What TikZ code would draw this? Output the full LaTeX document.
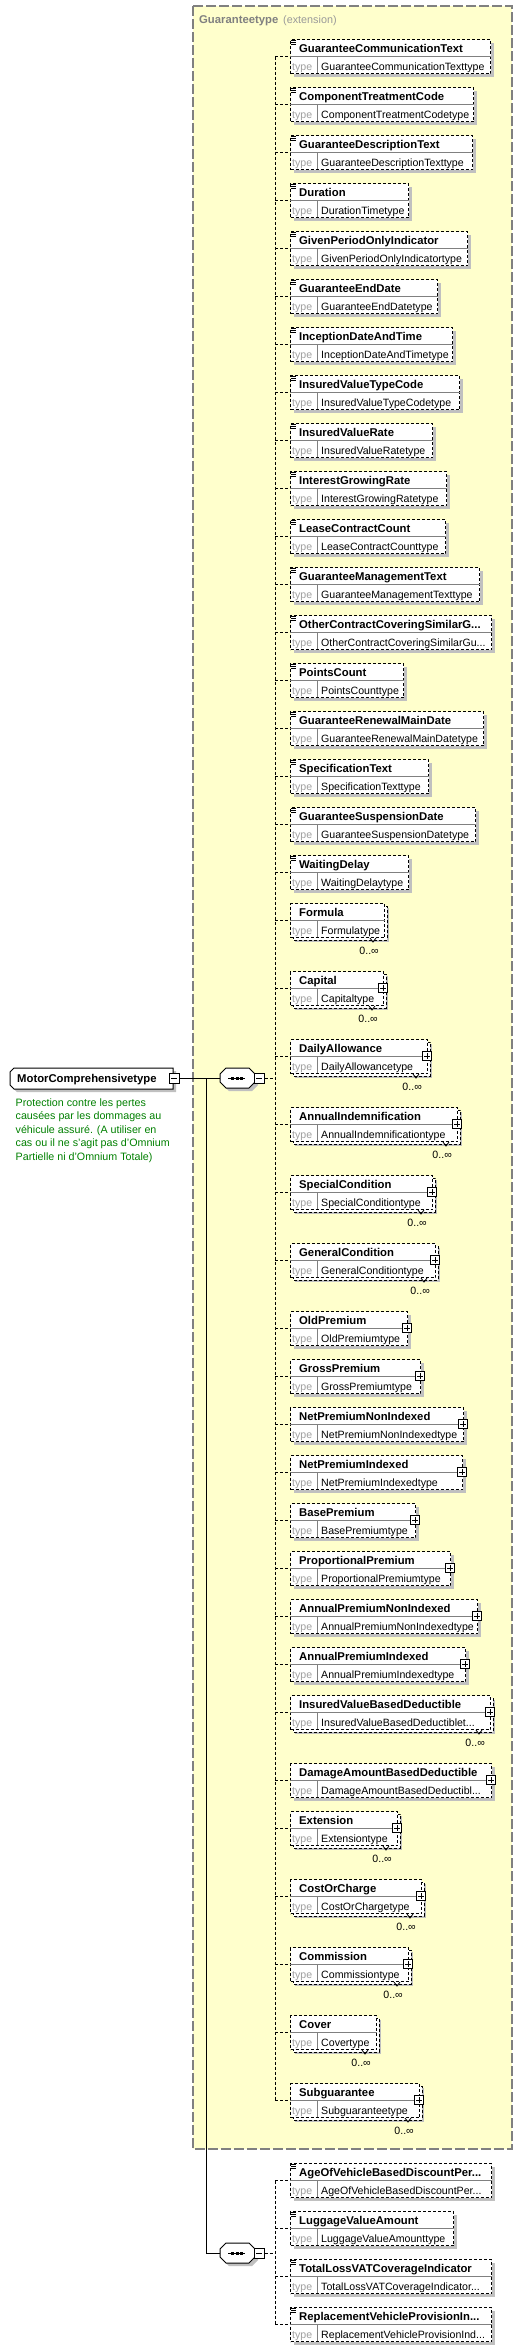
\documentclass[tikz,border=0pt]{standalone}
\usepackage{fontspec}
\setmainfont{Liberation Sans}
\definecolor{yel}{HTML}{FFFFCC}
\definecolor{shdgray}{HTML}{C0C0C0}
\definecolor{divgray}{HTML}{808080}
\definecolor{typegray}{HTML}{A0A0A0}
\definecolor{descgreen}{HTML}{008000}
\definecolor{ttlgray}{HTML}{808080}
\definecolor{ttlgray2}{HTML}{999999}
\tikzset{
  dsh/.style={line width=1pt, dash pattern=on 3pt off 2pt},
  sol/.style={line width=1pt},
  shd/.style={fill=shdgray},
  bk/.style={draw=black, fill=white, line width=1pt, dash pattern=on 3pt off 2pt},
  elbox/.style={draw=black, line width=1pt, dash pattern=on 3pt off 2pt, fill=white, inner sep=0pt, anchor=north west},
  divl/.style={draw=divgray, line width=1pt},
  nmtext/.style={font=\fontsize{11.3}{13}\selectfont\bfseries, inner sep=0pt, anchor=base west},
  tptext/.style={font=\fontsize{10.6}{13}\selectfont, inner sep=0pt, anchor=base west},
  tylabel/.style={font=\fontsize{10.6}{13}\selectfont, text=typegray, inner sep=0pt, anchor=base west},
  multtext/.style={font=\fontsize{10.6}{13}\selectfont, inner sep=0pt},
  desctext/.style={font=\fontsize{10.7}{13}\selectfont, text=descgreen, inner sep=0pt, anchor=base west},
  pbox/.style={draw=black, fill=white, line width=1pt, solid, minimum size=9pt, inner sep=0pt},
  mbox/.style={draw=black, fill=white, line width=1pt, solid, minimum size=10pt, inner sep=0pt},
  icn/.style={line width=0.9pt},
}
% #1 id, #2 top, #3 right, #4 name, #5 type, #6 icon, #7 plus, #8 mult
\newcommand{\xel}[8]{%
  \ifnum#8=1
    \fill[shd] (295,{#2+5}) rectangle ({#3+5},{#2+39});
    \draw[bk] (293,{#2+3}) rectangle ({#3+3},{#2+37});
  \else
    \fill[shd] (294,{#2+4}) rectangle ({#3+4},{#2+38});
  \fi
  \pgfmathsetmacro\elw{#3-290}%
  \node[elbox, minimum width=\elw pt, minimum height=34pt] (#1) at (290,#2) {};
  \draw[divl] (#1.west) -- (#1.east);
  \draw[divl] (317,{#2+17}) -- (317,{#2+34});
  \node[nmtext] (#1n) at (299,{#2+13.5}) {#4};
  \node[tylabel] (#1y) at (292,{#2+31}) {type};
  \node[tptext] (#1t) at (321,{#2+31}) {#5};
  \ifnum#6=1 \draw[icn] (291,{#2+1}) -- ++(5,0) (291,{#2+3}) -- ++(5,0) (291,{#2+5}) -- ++(5,0);\fi
  \ifnum#7=1 \node[pbox] (#1p) at (#3,{#2+17}) {};
    \draw[sol] ({#3-3},{#2+17}) -- ({#3+3},{#2+17}) (#3,{#2+14}) -- (#3,{#2+20});\fi
  \ifnum#8=1 \node[multtext, anchor=base east] (#1m) at ({#3-5},{#2+51}) {0..∞};
    \draw[line width=0.8pt] ({#3-14},{#2+35}) -- ({#3-11},{#2+39}) -- ({#3-8},{#2+35});\fi
}
% #1 id, #2 left x, #3 center y
\newcommand{\seqsym}[3]{%
  \fill[shd] ({#2+3+6},{#3-10+3}) -- ({#2+3+29},{#3-10+3}) -- ({#2+3+35},{#3-4+3}) -- ({#2+3+35},{#3+4+3}) -- ({#2+3+29},{#3+10+3}) -- ({#2+3+6},{#3+10+3}) -- ({#2+3},{#3+4+3}) -- ({#2+3},{#3-4+3}) -- cycle;
  \draw[sol, fill=white] ({#2+6},{#3-10}) -- ({#2+29},{#3-10}) -- ({#2+35},{#3-4}) -- ({#2+35},{#3+4}) -- ({#2+29},{#3+10}) -- ({#2+6},{#3+10}) -- ({#2},{#3+4}) -- ({#2},{#3-4}) -- cycle;
  \node[inner sep=0pt, minimum width=35pt, minimum height=20pt, anchor=west] (#1) at (#2,#3) {};
  \draw[sol] ({#2+8},#3) -- ({#2+25},#3);
  \fill ({#2+11},{#3-1.5}) rectangle ++(3,3);
  \fill ({#2+15.5},{#3-1.5}) rectangle ++(3,3);
  \fill ({#2+20},{#3-1.5}) rectangle ++(3,3);
  \node[mbox] (#1m) at ({#2+39},#3) {};
  \draw[sol] ({#2+36},#3) -- ({#2+42},#3);
}
\begin{document}
\begin{tikzpicture}[x=1pt, y=-1pt]
\useasboundingbox (0,0) rectangle (522,2351);
\fill[white] (0,0) rectangle (522,2351);
% extension area
\draw[fill=yel, draw=divgray, line width=1.2pt, dash pattern=on 10pt off 3pt] (193,6) rectangle (512,2149);
\node[font=\fontsize{11.3}{13}\selectfont\bfseries, text=ttlgray, inner sep=0pt, anchor=base west] (ttl) at (199,23) {Guaranteetype};
\node[font=\fontsize{10.8}{13}\selectfont, text=ttlgray2, inner sep=0pt, anchor=base west] (ttl2) at (283,23) {(extension)};
% root
\fill[shd] (17,1071) -- (176,1071) -- (176,1092) -- (17,1092) -- (13,1088) -- (13,1075) -- cycle;
\draw[sol, fill=white] (14,1068) -- (173,1068) -- (173,1089) -- (14,1089) -- (10,1085) -- (10,1072) -- cycle;
\node[inner sep=0pt, minimum width=163pt, minimum height=21pt, anchor=north west] (root) at (10,1068) {};
\node[nmtext] (rootn) at (17,1082) {MotorComprehensivetype};
\node[mbox] (rootm) at (174,1078) {};
\draw[sol] (171,1078) -- (177,1078);
\node[desctext] (d1) at (15.5,1106) {Protection contre les pertes};
\node[desctext] (d2) at (15.5,1119.5) {causées par les dommages au};
\node[desctext] (d3) at (15.5,1133) {véhicule assuré. (A utiliser en};
\node[desctext] (d4) at (15.5,1146.5) {cas ou il ne s'agit pas d'Omnium};
\node[desctext] (d5) at (15.5,1160) {Partielle ni d'Omnium Totale)};
% sequences
\coordinate (j1) at (206,1078);
\coordinate (bus) at (275,0);
\draw[sol] (j1) |- (220,2253);
\seqsym{s1}{220}{1078}
\seqsym{s2}{220}{2253}
\draw[sol] (rootm.east) -- (s1.west);
\draw[sol] (j1) |- (s2.west);
% elements
\xel{e1}{39}{490}{GuaranteeCommunicationText}{GuaranteeCommunicationTexttype}{1}{0}{0}
\xel{e2}{87}{473}{ComponentTreatmentCode}{ComponentTreatmentCodetype}{1}{0}{0}
\xel{e3}{135}{472}{GuaranteeDescriptionText}{GuaranteeDescriptionTexttype}{1}{0}{0}
\xel{e4}{183}{408}{Duration}{DurationTimetype}{1}{0}{0}
\xel{e5}{231}{467}{GivenPeriodOnlyIndicator}{GivenPeriodOnlyIndicatortype}{1}{0}{0}
\xel{e6}{279}{437}{GuaranteeEndDate}{GuaranteeEndDatetype}{1}{0}{0}
\xel{e7}{327}{452}{InceptionDateAndTime}{InceptionDateAndTimetype}{1}{0}{0}
\xel{e8}{375}{459}{InsuredValueTypeCode}{InsuredValueTypeCodetype}{1}{0}{0}
\xel{e9}{423}{432}{InsuredValueRate}{InsuredValueRatetype}{1}{0}{0}
\xel{e10}{471}{446}{InterestGrowingRate}{InterestGrowingRatetype}{1}{0}{0}
\xel{e11}{519}{445}{LeaseContractCount}{LeaseContractCounttype}{1}{0}{0}
\xel{e12}{567}{479}{GuaranteeManagementText}{GuaranteeManagementTexttype}{1}{0}{0}
\xel{e13}{615}{491}{OtherContractCoveringSimilarG...}{OtherContractCoveringSimilarGu...}{1}{0}{0}
\xel{e14}{663}{403}{PointsCount}{PointsCounttype}{1}{0}{0}
\xel{e15}{711}{483}{GuaranteeRenewalMainDate}{GuaranteeRenewalMainDatetype}{1}{0}{0}
\xel{e16}{759}{428}{SpecificationText}{SpecificationTexttype}{1}{0}{0}
\xel{e17}{807}{475}{GuaranteeSuspensionDate}{GuaranteeSuspensionDatetype}{1}{0}{0}
\xel{e18}{855}{408}{WaitingDelay}{WaitingDelaytype}{1}{0}{0}
\xel{e19}{903}{384}{Formula}{Formulatype}{0}{0}{1}
\xel{e20}{971}{383}{Capital}{Capitaltype}{0}{1}{1}
\xel{e21}{1039}{427}{DailyAllowance}{DailyAllowancetype}{0}{1}{1}
\xel{e22}{1107}{457}{AnnualIndemnification}{AnnualIndemnificationtype}{0}{1}{1}
\xel{e23}{1175}{432}{SpecialCondition}{SpecialConditiontype}{0}{1}{1}
\xel{e24}{1243}{435}{GeneralCondition}{GeneralConditiontype}{0}{1}{1}
\xel{e25}{1311}{407}{OldPremium}{OldPremiumtype}{0}{1}{0}
\xel{e26}{1359}{420}{GrossPremium}{GrossPremiumtype}{0}{1}{0}
\xel{e27}{1407}{463}{NetPremiumNonIndexed}{NetPremiumNonIndexedtype}{0}{1}{0}
\xel{e28}{1455}{462}{NetPremiumIndexed}{NetPremiumIndexedtype}{0}{1}{0}
\xel{e29}{1503}{415}{BasePremium}{BasePremiumtype}{0}{1}{0}
\xel{e30}{1551}{450}{ProportionalPremium}{ProportionalPremiumtype}{0}{1}{0}
\xel{e31}{1599}{477}{AnnualPremiumNonIndexed}{AnnualPremiumNonIndexedtype}{0}{1}{0}
\xel{e32}{1647}{465}{AnnualPremiumIndexed}{AnnualPremiumIndexedtype}{0}{1}{0}
\xel{e33}{1695}{490}{InsuredValueBasedDeductible}{InsuredValueBasedDeductiblet...}{0}{1}{1}
\xel{e34}{1763}{491}{DamageAmountBasedDeductible}{DamageAmountBasedDeductibl...}{0}{1}{0}
\xel{e35}{1811}{397}{Extension}{Extensiontype}{0}{1}{1}
\xel{e36}{1879}{421}{CostOrCharge}{CostOrChargetype}{0}{1}{1}
\xel{e37}{1947}{408}{Commission}{Commissiontype}{0}{1}{1}
\xel{e38}{2015}{376}{Cover}{Covertype}{0}{0}{1}
\xel{e39}{2083}{419}{Subguarantee}{Subguaranteetype}{0}{1}{1}
\xel{b1}{2163}{491}{AgeOfVehicleBasedDiscountPer...}{AgeOfVehicleBasedDiscountPer...}{1}{0}{0}
\xel{b2}{2211}{453}{LuggageValueAmount}{LuggageValueAmounttype}{1}{0}{0}
\xel{b3}{2259}{491}{TotalLossVATCoverageIndicator}{TotalLossVATCoverageIndicator...}{1}{0}{0}
\xel{b4}{2307}{491}{ReplacementVehicleProvisionIn...}{ReplacementVehicleProvisionInd...}{1}{0}{0}
% connectors
\draw[dsh] (s1m.east) -- (s1m.east -| bus);
\draw[dsh] (e1.west -| bus) -- (e39.west -| bus);
\foreach \i in {1,...,39} { \draw[dsh] (e\i.west -| bus) -- (e\i.west); }
\draw[dsh] (s2m.east) -- (s2m.east -| bus);
\draw[dsh] (b1.west -| bus) -- (b4.west -| bus);
\foreach \i in {1,...,4} { \draw[dsh] (b\i.west -| bus) -- (b\i.west); }
\end{tikzpicture}
\end{document}
